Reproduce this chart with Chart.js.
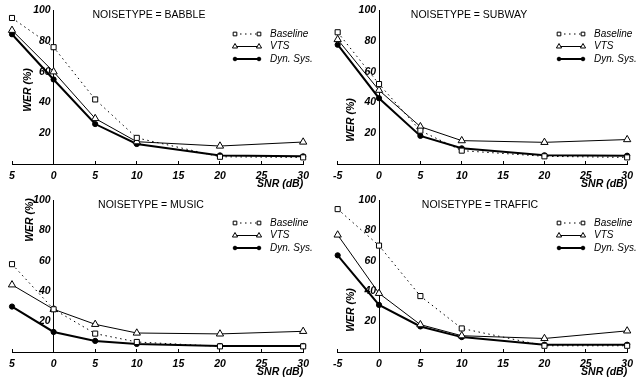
<!DOCTYPE html>
<html>
<head>
<meta charset="utf-8">
<script src="https://cdn.jsdelivr.net/npm/chart.js@4/dist/chart.umd.min.js"></script>
<style>
  html, body { margin: 0; padding: 0; background: #fff; overflow: hidden; }
  body { width: 636px; height: 381px; position: relative; }
  .panel { position: absolute; width: 318px; height: 190px; }
</style>
</head>
<body>
<div class="panel" style="left:0;top:0"><canvas id="babble" width="318" height="190"></canvas></div>
<div class="panel" style="left:324px;top:0"><canvas id="subway" width="318" height="190"></canvas></div>
<div class="panel" style="left:0;top:188px"><canvas id="music" width="318" height="190"></canvas></div>
<div class="panel" style="left:324px;top:188px"><canvas id="traffic" width="318" height="190"></canvas></div>
<script>
// SNR values (dB) on the x axis
const snr = [-5, 0, 5, 10, 20, 30];
const xTicks = [-5, 0, 5, 10, 15, 20, 25, 30];
const yTicks = [20, 40, 60, 80, 100];
const seriesNames = ["Baseline", "VTS", "Dyn. Sys."];

// WER (%)
const babbleBaseline = [95, 76, 42, 17, 4.7, 4.3];
const babbleVts = [87, 60, 29.6, 14.5, 11.7, 14.3];
const babbleDyn = [84.4, 55, 26, 13, 5.6, 5];

const subwayBaseline = [85.7, 52, 21.7, 8.7, 5, 4.3];
const subwayVts = [81, 48, 24.3, 15.2, 14.1, 15.9];
const subwayDyn = [77.6, 42.8, 18.3, 10.2, 5.7, 5.4];

const musicBaseline = [57.8, 28.1, 12.1, 6.6, 3.7, 3.7];
const musicVts = [44.2, 28.1, 18.2, 12.5, 11.9, 13.6];
const musicDyn = [29.9, 13.2, 7.3, 5.3, 4, 4];

const trafficBaseline = [94, 70, 36.8, 15.5, 4.1, 4.1];
const trafficVts = [77, 38.6, 18, 10.7, 8.9, 13.9];
const trafficDyn = [63.6, 31, 16.8, 9.8, 4.8, 4.8];

const FONT = "'Liberation Sans', Arial, Helvetica, sans-serif";

// draws the panel title, rotated y label and the little legend
const decorPlugin = {
  id: "decor",
  afterDraw(chart, args, opts) {
    const ctx = chart.ctx;
    ctx.save();
    ctx.fillStyle = "#000";
    ctx.font = "10.5px " + FONT;
    ctx.textAlign = "center";
    ctx.textBaseline = "middle";
    ctx.fillText(opts.title, opts.titleX, opts.titleY);

    ctx.save();
    ctx.translate(opts.werX, opts.werY);
    ctx.rotate(-Math.PI / 2);
    ctx.font = "italic bold 10.5px " + FONT;
    ctx.fillText("WER (%)", 0, 0);
    ctx.restore();

    chart.data.datasets.forEach((ds, i) => {
      const y = opts.legendY + i * 12.5;
      const x1 = 235, x2 = 259;
      ctx.save();
      ctx.strokeStyle = "#000";
      ctx.lineWidth = ds.borderWidth;
      ctx.setLineDash(ds.borderDash || []);
      ctx.beginPath();
      ctx.moveTo(x1, y);
      ctx.lineTo(x2, y);
      ctx.stroke();
      ctx.restore();
      [x1, x2].forEach((px) => {
        ctx.fillStyle = ds.pointBackgroundColor;
        ctx.strokeStyle = "#000";
        ctx.lineWidth = 1;
        Chart.helpers.drawPoint(ctx, {
          pointStyle: ds.pointStyle,
          radius: ds.legendRadius,
          borderWidth: 1,
        }, px, y);
      });
      ctx.fillStyle = "#000";
      ctx.font = "italic 10px " + FONT;
      ctx.textAlign = "left";
      ctx.fillText(ds.label, 270, y);
    });
    ctx.restore();
  },
};

function makePanel(id, baseline, vts, dyn, decor, padTop, dropMinus) {
  const ctx = document.getElementById(id).getContext("2d");
  return new Chart(ctx, {
    type: "line",
    data: {
      labels: snr,
      datasets: [
        {
          label: seriesNames[0],
          data: snr.map((x, i) => ({ x, y: baseline[i] })),
          borderColor: "#000",
          borderWidth: 1,
          borderDash: [1.5, 3.5],
          pointStyle: "rect",
          pointRadius: 3.6,
          legendRadius: 2.6,
          pointBorderWidth: 1,
          pointBorderColor: "#000",
          pointBackgroundColor: "#fff",
        },
        {
          label: seriesNames[1],
          data: snr.map((x, i) => ({ x, y: vts[i] })),
          borderColor: "#000",
          borderWidth: 1,
          pointStyle: "triangle",
          pointRadius: 4.2,
          legendRadius: 3,
          pointBorderWidth: 1,
          pointBorderColor: "#000",
          pointBackgroundColor: "#fff",
        },
        {
          label: seriesNames[2],
          data: snr.map((x, i) => ({ x, y: dyn[i] })),
          borderColor: "#000",
          borderWidth: 2,
          pointStyle: "circle",
          pointRadius: 2.6,
          legendRadius: 1.8,
          pointBorderWidth: 1,
          pointBorderColor: "#000",
          pointBackgroundColor: "#000",
        },
      ],
    },
    options: {
      responsive: false,
      animation: false,
      clip: false,
      layout: { padding: { left: 12, right: 9, top: padTop, bottom: 0 } },
      plugins: {
        legend: { display: false },
        tooltip: { enabled: false },
        decor,
      },
      elements: { line: { tension: 0 } },
      scales: {
        x: {
          type: "linear",
          position: "bottom",
          min: -5,
          max: 30,
          afterBuildTicks: (scale) => {
            scale.ticks = xTicks.map((v) => ({ value: v }));
          },
          afterFit: (scale) => {
            scale.height = 26;
          },
          grid: { display: true, drawOnChartArea: false, drawTicks: true, tickLength: -3, color: "#000" },
          border: { display: true, color: "#000", width: 1 },
          ticks: {
            padding: 9,
            color: "#000",
            maxRotation: 0,
            font: { family: FONT, size: 10.5, style: "italic", weight: "bold" },
            // the minus sign of -5 is cut off in the left-hand panels of the source
            callback: (v) => (dropMinus && v < 0 ? String(-v) : String(v)),
          },
          title: {
            display: true,
            text: "SNR (dB)",
            align: "end",
            color: "#000",
            padding: { top: 0, bottom: 0 },
            font: { family: FONT, size: 10.5, style: "italic", weight: "bold" },
          },
        },
        y: {
          type: "linear",
          position: { x: 0 },
          min: 0,
          max: 100,
          afterBuildTicks: (scale) => {
            scale.ticks = yTicks.map((v) => ({ value: v }));
          },
          afterFit: (scale) => {
            scale.width = 0;
          },
          grid: { display: false, drawTicks: false },
          border: { display: true, color: "#000", width: 1 },
          ticks: {
            padding: 4,
            color: "#000",
            font: { family: FONT, size: 10.5, style: "italic", weight: "bold" },
            // labels sit right against a centred axis, keep a small gap
            callback: (v) => v + " ",
          },
        },
      },
    },
    plugins: [decorPlugin],
  });
}

makePanel("babble", babbleBaseline, babbleVts, babbleDyn,
  { title: "NOISETYPE = BABBLE", titleX: 149, titleY: 15, werX: 28, werY: 90, legendY: 34 }, 10, true);
makePanel("subway", subwayBaseline, subwayVts, subwayDyn,
  { title: "NOISETYPE = SUBWAY", titleX: 145, titleY: 15, werX: 27, werY: 120, legendY: 34 }, 10, false);
makePanel("music", musicBaseline, musicVts, musicDyn,
  { title: "NOISETYPE = MUSIC", titleX: 151, titleY: 17, werX: 30, werY: 32, legendY: 35 }, 12, true);
makePanel("traffic", trafficBaseline, trafficVts, trafficDyn,
  { title: "NOISETYPE = TRAFFIC", titleX: 156, titleY: 17, werX: 27, werY: 122, legendY: 35 }, 12, false);
</script>
</body>
</html>
